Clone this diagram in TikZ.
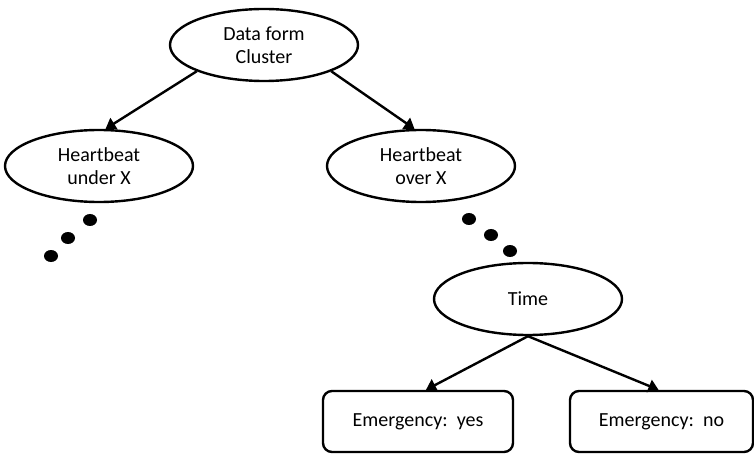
\documentclass[tikz,border=0pt]{standalone}
\usepackage{fontspec}
\setmainfont{Carlito}
\usetikzlibrary{shapes.geometric,arrows.meta}
\begin{document}
\begin{tikzpicture}[x=1pt,y=-1pt,
  line width=2.4pt,
  every node/.style={font=\fontsize{20}{23}\selectfont, align=center, inner sep=0pt},
  oval/.style={draw, ellipse, minimum width=188pt, minimum height=72pt},
  leaf/.style={draw, rounded corners=9pt, minimum height=61pt},
  link/.style={-{Triangle[length=10pt,width=13pt]}},
  dot/.style={fill=black}]
  \useasboundingbox (0,0) rectangle (754,454);

  % tree nodes
  \node[oval] (root) at (264,45) {Data form\\Cluster};
  \node[oval] (under) at (99,166) {Heartbeat\\under X};
  \node[oval] (over) at (421,166) {Heartbeat\\over X};
  \node[oval] (time) at (528,299) {Time};
  \node[leaf, minimum width=190pt] (yes) at (418,421.5) {Emergency:\ \ yes};
  \node[leaf, minimum width=183pt] (no) at (661.5,421.5) {Emergency:\ \ no};

  % connectors
  \draw[link] (root.south west) -- (under.80);
  \draw[link] (root.south east) -- (over.100);
  \draw[link] (time.south) -- ([xshift=8pt]yes.north);
  \draw[link] (time.south) -- ([xshift=-3pt]no.north);

  % ellipsis dots
  \fill[dot] (90,220) ellipse [x radius=7, y radius=6];
  \fill[dot] (68,238) ellipse [x radius=7, y radius=6];
  \fill[dot] (51,256) ellipse [x radius=7, y radius=6];
  \fill[dot] (469,219) ellipse [x radius=7, y radius=6];
  \fill[dot] (491,235) ellipse [x radius=7, y radius=6];
  \fill[dot] (510,251) ellipse [x radius=7, y radius=6];
\end{tikzpicture}
\end{document}
